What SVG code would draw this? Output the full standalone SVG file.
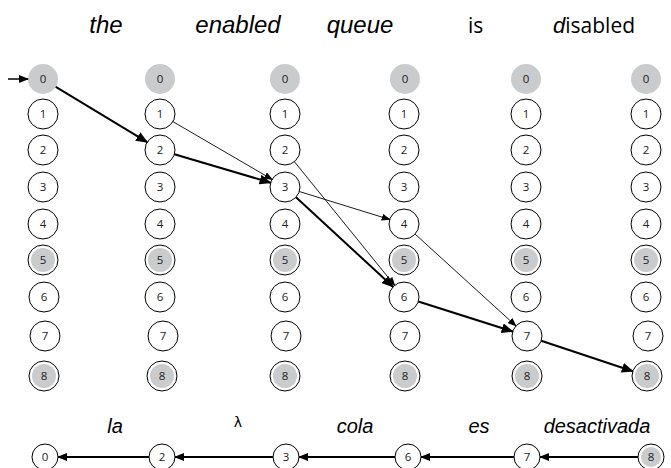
<svg xmlns="http://www.w3.org/2000/svg" width="671" height="468" viewBox="0 0 671 468">
<style>
.ring{fill:#fff;stroke:#000;stroke-width:1}
.gray{fill:#c9cbcc;stroke:none}
.num{font-family:"Open Sans","DejaVu Sans",sans-serif;font-size:11.5px;text-anchor:middle;fill:#222}
.lab{font-family:"Liberation Sans",Arial,sans-serif;font-style:italic;font-size:24px;text-anchor:middle;fill:#000}
.labu{font-family:"Open Sans","DejaVu Sans",sans-serif;font-size:21px;fill:#000}
.blab{font-family:"Liberation Sans",Arial,sans-serif;font-style:italic;font-size:20px;text-anchor:middle;fill:#000}
.thick{stroke:#000;stroke-width:2;fill:none;marker-end:url(#big)}
.thin{stroke:#000;stroke-width:0.9;fill:none;marker-end:url(#small)}
.bot{stroke:#000;stroke-width:1.8;fill:none;marker-end:url(#mid)}
</style>
<defs>
<marker id="big" markerUnits="userSpaceOnUse" markerWidth="12" markerHeight="10" refX="11" refY="5" orient="auto"><path d="M0,0 L12,5 L0,10 Z" fill="#000"/></marker>
<marker id="small" markerUnits="userSpaceOnUse" markerWidth="9" markerHeight="7" refX="8" refY="3.5" orient="auto"><path d="M0,0 L9,3.5 L0,7 Z" fill="#000"/></marker>
<marker id="mid" markerUnits="userSpaceOnUse" markerWidth="10" markerHeight="8" refX="9" refY="4" orient="auto"><path d="M0,0 L10,4 L0,8 Z" fill="#000"/></marker>
</defs>
<rect width="671" height="468" fill="#fff"/>
<g id="title">
<text class="lab" x="106" y="33">the</text>
<text class="lab" x="238" y="33">enabled</text>
<text class="lab" x="360" y="33">queue</text>
<text class="labu" x="468" y="33">is</text>
<text x="553" y="33"><tspan font-family="Liberation Sans, Arial, sans-serif" font-style="italic" font-size="22">d</tspan><tspan class="labu" dx="0">isabled</tspan></text>
</g>
<g id="col1">
<g id="c1n0"><circle class="gray" cx="43" cy="79" r="15"/><text class="num" x="43" y="83">0</text></g>
<g id="c1n1"><circle class="ring" cx="43" cy="114" r="15"/><text class="num" x="43" y="118">1</text></g>
<g id="c1n2"><circle class="ring" cx="43" cy="150" r="15"/><text class="num" x="43" y="154">2</text></g>
<g id="c1n3"><circle class="ring" cx="43" cy="187" r="15"/><text class="num" x="43" y="191">3</text></g>
<g id="c1n4"><circle class="ring" cx="43" cy="224" r="15"/><text class="num" x="43" y="228">4</text></g>
<g id="c1n5"><circle class="ring" cx="43" cy="260" r="15"/><circle class="gray" cx="43" cy="260" r="12"/><text class="num" x="43" y="264">5</text></g>
<g id="c1n6"><circle class="ring" cx="44" cy="297" r="15"/><text class="num" x="44" y="301">6</text></g>
<g id="c1n7"><circle class="ring" cx="45" cy="336" r="15"/><text class="num" x="45" y="340">7</text></g>
<g id="c1n8"><circle class="ring" cx="44" cy="376" r="15"/><circle class="gray" cx="44" cy="376" r="12"/><text class="num" x="44" y="380">8</text></g>
</g>
<g id="col2">
<g id="c2n0"><circle class="gray" cx="160" cy="79" r="15"/><text class="num" x="160" y="83">0</text></g>
<g id="c2n1"><circle class="ring" cx="160" cy="114" r="15"/><text class="num" x="160" y="118">1</text></g>
<g id="c2n2"><circle class="ring" cx="160" cy="150" r="15"/><text class="num" x="160" y="154">2</text></g>
<g id="c2n3"><circle class="ring" cx="160" cy="187" r="15"/><text class="num" x="160" y="191">3</text></g>
<g id="c2n4"><circle class="ring" cx="160" cy="224" r="15"/><text class="num" x="160" y="228">4</text></g>
<g id="c2n5"><circle class="ring" cx="160" cy="260" r="15"/><circle class="gray" cx="160" cy="260" r="12"/><text class="num" x="160" y="264">5</text></g>
<g id="c2n6"><circle class="ring" cx="160" cy="297" r="15"/><text class="num" x="160" y="301">6</text></g>
<g id="c2n7"><circle class="ring" cx="163" cy="336" r="15"/><text class="num" x="163" y="340">7</text></g>
<g id="c2n8"><circle class="ring" cx="162" cy="376" r="15"/><circle class="gray" cx="162" cy="376" r="12"/><text class="num" x="162" y="380">8</text></g>
</g>
<g id="col3">
<g id="c3n0"><circle class="gray" cx="285" cy="79" r="15"/><text class="num" x="285" y="83">0</text></g>
<g id="c3n1"><circle class="ring" cx="285" cy="114" r="15"/><text class="num" x="285" y="118">1</text></g>
<g id="c3n2"><circle class="ring" cx="285" cy="150" r="15"/><text class="num" x="285" y="154">2</text></g>
<g id="c3n3"><circle class="ring" cx="285" cy="187" r="15"/><text class="num" x="285" y="191">3</text></g>
<g id="c3n4"><circle class="ring" cx="285" cy="224" r="15"/><text class="num" x="285" y="228">4</text></g>
<g id="c3n5"><circle class="ring" cx="285" cy="260" r="15"/><circle class="gray" cx="285" cy="260" r="12"/><text class="num" x="285" y="264">5</text></g>
<g id="c3n6"><circle class="ring" cx="285" cy="297" r="15"/><text class="num" x="285" y="301">6</text></g>
<g id="c3n7"><circle class="ring" cx="286" cy="336" r="15"/><text class="num" x="286" y="340">7</text></g>
<g id="c3n8"><circle class="ring" cx="285" cy="376" r="15"/><circle class="gray" cx="285" cy="376" r="12"/><text class="num" x="285" y="380">8</text></g>
</g>
<g id="col4">
<g id="c4n0"><circle class="gray" cx="405" cy="79" r="15"/><text class="num" x="405" y="83">0</text></g>
<g id="c4n1"><circle class="ring" cx="404" cy="114" r="15"/><text class="num" x="404" y="118">1</text></g>
<g id="c4n2"><circle class="ring" cx="404" cy="150" r="15"/><text class="num" x="404" y="154">2</text></g>
<g id="c4n3"><circle class="ring" cx="404" cy="187" r="15"/><text class="num" x="404" y="191">3</text></g>
<g id="c4n4"><circle class="ring" cx="404" cy="224" r="15"/><text class="num" x="404" y="228">4</text></g>
<g id="c4n5"><circle class="ring" cx="404" cy="260" r="15"/><circle class="gray" cx="404" cy="260" r="12"/><text class="num" x="404" y="264">5</text></g>
<g id="c4n6"><circle class="ring" cx="404" cy="297" r="15"/><text class="num" x="404" y="301">6</text></g>
<g id="c4n7"><circle class="ring" cx="405" cy="336" r="15"/><text class="num" x="405" y="340">7</text></g>
<g id="c4n8"><circle class="ring" cx="405" cy="376" r="15"/><circle class="gray" cx="405" cy="376" r="12"/><text class="num" x="405" y="380">8</text></g>
</g>
<g id="col5">
<g id="c5n0"><circle class="gray" cx="526" cy="79" r="15"/><text class="num" x="526" y="83">0</text></g>
<g id="c5n1"><circle class="ring" cx="526" cy="114" r="15"/><text class="num" x="526" y="118">1</text></g>
<g id="c5n2"><circle class="ring" cx="526" cy="150" r="15"/><text class="num" x="526" y="154">2</text></g>
<g id="c5n3"><circle class="ring" cx="526" cy="187" r="15"/><text class="num" x="526" y="191">3</text></g>
<g id="c5n4"><circle class="ring" cx="526" cy="224" r="15"/><text class="num" x="526" y="228">4</text></g>
<g id="c5n5"><circle class="ring" cx="526" cy="260" r="15"/><circle class="gray" cx="526" cy="260" r="12"/><text class="num" x="526" y="264">5</text></g>
<g id="c5n6"><circle class="ring" cx="526" cy="297" r="15"/><text class="num" x="526" y="301">6</text></g>
<g id="c5n7"><circle class="ring" cx="527" cy="336" r="15"/><text class="num" x="527" y="340">7</text></g>
<g id="c5n8"><circle class="ring" cx="527" cy="376" r="15"/><circle class="gray" cx="527" cy="376" r="12"/><text class="num" x="527" y="380">8</text></g>
</g>
<g id="col6">
<g id="c6n0"><circle class="gray" cx="646" cy="79" r="15"/><text class="num" x="646" y="83">0</text></g>
<g id="c6n1"><circle class="ring" cx="646" cy="114" r="15"/><text class="num" x="646" y="118">1</text></g>
<g id="c6n2"><circle class="ring" cx="646" cy="150" r="15"/><text class="num" x="646" y="154">2</text></g>
<g id="c6n3"><circle class="ring" cx="646" cy="187" r="15"/><text class="num" x="646" y="191">3</text></g>
<g id="c6n4"><circle class="ring" cx="646" cy="224" r="15"/><text class="num" x="646" y="228">4</text></g>
<g id="c6n5"><circle class="ring" cx="646" cy="260" r="15"/><circle class="gray" cx="646" cy="260" r="12"/><text class="num" x="646" y="264">5</text></g>
<g id="c6n6"><circle class="ring" cx="646" cy="297" r="15"/><text class="num" x="646" y="301">6</text></g>
<g id="c6n7"><circle class="ring" cx="648" cy="336" r="15"/><text class="num" x="648" y="340">7</text></g>
<g id="c6n8"><circle class="ring" cx="647" cy="376" r="15"/><circle class="gray" cx="647" cy="376" r="12"/><text class="num" x="647" y="380">8</text></g>
</g>
<g id="connectors">
<line x1="8" y1="79" x2="28" y2="79" stroke="#000" stroke-width="1.5" marker-end="url(#mid)"/>
<line class="thick" x1="55.8" y1="86.8" x2="147.2" y2="142.2"/>
<line class="thick" x1="174.4" y1="154.3" x2="270.6" y2="182.7"/>
<line class="thin" x1="172.9" y1="121.6" x2="272.1" y2="179.4"/>
<line class="thin" x1="294.4" y1="161.7" x2="394.6" y2="285.3"/>
<line class="thin" x1="299.3" y1="191.5" x2="389.7" y2="219.5"/>
<line class="thick" x1="296" y1="197.2" x2="393" y2="286.8"/>
<line class="thick" x1="418.3" y1="301.5" x2="512.7" y2="331.5"/>
<line class="thin" x1="415.1" y1="234.1" x2="515.9" y2="325.9"/>
<line class="thick" x1="541.2" y1="340.7" x2="632.8" y2="371.3"/>
<line class="bot" x1="638" y1="457" x2="540" y2="457"/>
<line class="bot" x1="514" y1="457" x2="421" y2="457"/>
<line class="bot" x1="395" y1="457" x2="299" y2="457"/>
<line class="bot" x1="273" y1="457" x2="175" y2="457"/>
<line class="bot" x1="149" y1="457" x2="58" y2="457"/>
</g>
<g id="bottom">
<g id="b0"><circle class="ring" cx="45" cy="457" r="13"/><text class="num" x="45" y="461">0</text></g>
<g id="b2"><circle class="ring" cx="162" cy="457" r="13"/><text class="num" x="162" y="461">2</text></g>
<g id="b3"><circle class="ring" cx="286" cy="457" r="13"/><text class="num" x="286" y="461">3</text></g>
<g id="b6"><circle class="ring" cx="408" cy="457" r="13"/><text class="num" x="408" y="461">6</text></g>
<g id="b7"><circle class="ring" cx="527" cy="457" r="13"/><text class="num" x="527" y="461">7</text></g>
<g id="b8"><circle class="ring" cx="651" cy="457" r="13"/><circle class="gray" cx="651" cy="457" r="10"/><text class="num" x="651" y="461">8</text></g>
<text class="blab" x="115" y="433">la</text>
<text x="238" y="427" font-family="DejaVu Sans, sans-serif" font-size="14" text-anchor="middle">λ</text>
<text class="blab" x="355" y="433">cola</text>
<text class="blab" x="479" y="433">es</text>
<text class="blab" x="597" y="433">desactivada</text>
</g>
</svg>
